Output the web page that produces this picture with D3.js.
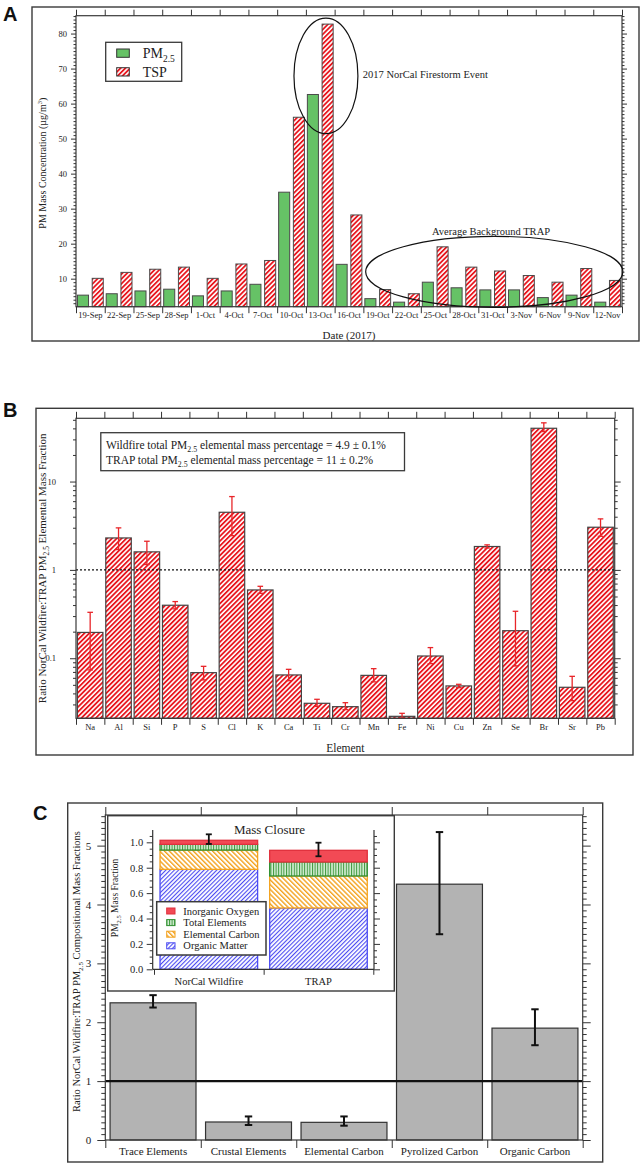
<!DOCTYPE html>
<html>
<head>
<meta charset="utf-8">
<script src="https://cdn.jsdelivr.net/npm/d3@7"></script>
<style>
  body { margin: 0; background: #fff; }
  svg { display: block; }
</style>
</head>
<body>
<svg id="fig" width="642" height="1170"></svg>
<script>
// ---- panel A data ----
const datesA = ['19-Sep','22-Sep','25-Sep','28-Sep','1-Oct','4-Oct','7-Oct','10-Oct','13-Oct','16-Oct',
                '19-Oct','22-Oct','25-Oct','28-Oct','31-Oct','3-Nov','6-Nov','9-Nov','12-Nov']
const pm25 = [5.3, 5.7, 6.5, 7.0, 5.1, 6.5, 8.4, 34.7, 62.6, 14.1, 4.3, 3.3, 9.0, 7.4, 6.8, 6.8, 4.6, 5.3, 3.3]
const tsp  = [10.1, 11.8, 12.7, 13.3, 10.1, 14.2, 15.2, 56.1, 82.7, 28.2, 6.9, 5.7, 19.1, 13.3, 12.2, 10.9, 9.0, 12.9, 9.5]
const ticksA = [10, 20, 30, 40, 50, 60, 70, 80]

// ---- panel B data ----
const elements = ['Na','Al','Si','P','S','Cl','K','Ca','Ti','Cr','Mn','Fe','Ni','Cu','Zn','Se','Br','Sr','Pb']
const ratioB     = [0.196, 2.30, 1.60, 0.398, 0.0687, 4.49, 0.593, 0.0647, 0.0309, 0.0283, 0.064, 0.022, 0.106, 0.0486, 1.84, 0.205, 40.1, 0.0469, 3.04]
const ratioBLow  = [0.0737, 1.70, 1.15, 0.362, 0.0568, 2.44, 0.543, 0.0557, 0.0285, 0.0262, 0.054, 0.021, 0.0869, 0.0465, 1.77, 0.0818, 36.8, 0.0331, 2.40]
const ratioBHigh = [0.331, 2.99, 2.11, 0.438, 0.081, 6.76, 0.652, 0.0749, 0.0343, 0.0314, 0.0762, 0.0238, 0.132, 0.0507, 1.92, 0.34, 46.2, 0.0624, 3.78]
const ticksB = [0.1, 1, 10]

// ---- panel C data ----
const compCats = ['Trace Elements','Crustal Elements','Elemental Carbon','Pyrolized Carbon','Organic Carbon']
const compRatio = [2.33, 0.306, 0.30, 4.345, 1.90]
const compLow   = [2.25, 0.255, 0.243, 3.495, 1.61]
const compHigh  = [2.46, 0.40, 0.40, 5.23, 2.22]
const ticksC = [0, 1, 2, 3, 4, 5]

// ---- inset (mass closure) data ----
const sites = ['NorCal Wildfire', 'TRAP']
const closureKeys = ['Organic Matter', 'Elemental Carbon', 'Total Elements', 'Inorganic Oxygen']
const organicMatter   = [0.787, 0.483]
const elementalCarbon = [0.152, 0.252]
const totalElements   = [0.045, 0.110]
const inorganicOxygen = [0.032, 0.092]
const closureLow  = [0.987, 0.890]
const closureHigh = [1.063, 0.997]
const ticksI = [0, 0.2, 0.4, 0.6, 0.8, 1.0]

const SERIF = '"Liberation Serif", "Times New Roman", Times, serif'
const SANS = '"Liberation Sans", Arial, sans-serif'

const svg = d3.select('#fig')
svg.append('rect').attr('width', 642).attr('height', 1170).attr('fill', '#fff')
const defs = svg.append('defs')

function stripes (id, color, bg, size, w, angle) {
  const p = defs.append('pattern')
    .attr('id', id)
    .attr('patternUnits', 'userSpaceOnUse')
    .attr('width', size).attr('height', size)
    .attr('patternTransform', `rotate(${angle})`)
  p.append('rect').attr('width', size).attr('height', size).attr('fill', bg)
  p.append('rect').attr('width', w).attr('height', size).attr('fill', color)
}
stripes('hatchRed', '#e8161e', '#fff', 3.4, 1.8, 45)
stripes('hatchBlue', '#4b4bf2', '#fff', 3, 1.1, 45)
stripes('hatchOrange', '#f3a21e', '#fff', 3.4, 1.4, -45)
stripes('hatchGreen', '#3b983b', '#d3ecd3', 2.6, 1.0, 0)

// text with PM2.5 subscript
function pmText (sel, before, after, size) {
  sel.append('tspan').text(before + 'PM')
  sel.append('tspan').attr('font-size', size * 0.68).attr('dy', size * 0.28).text('2.5')
  sel.append('tspan').attr('dy', -size * 0.28).text(after)
}

function box (g, x0, y0, x1, y1, sw, fill) {
  return g.append('rect')
    .attr('x', x0).attr('y', y0)
    .attr('width', x1 - x0).attr('height', y1 - y0)
    .attr('fill', fill || 'none')
    .attr('stroke', '#3a3a3a')
    .attr('stroke-width', sw || 1.2)
}

function styleAxis (s, fs) {
  s.attr('font-family', SERIF).attr('font-size', fs).attr('color', '#333')
  s.select('.domain').remove()
  s.selectAll('text').attr('fill', '#222')
}

// vertical axis with major (labelled) and minor ticks
function yAxis (g, scale, x, side, majors, minors, fmt, o) {
  const make = side === 'left' ? d3.axisLeft : d3.axisRight
  g.append('g').attr('transform', `translate(${x},0)`)
    .call(make(scale).tickValues(minors).tickSize(o.minLen).tickFormat(''))
    .call(s => styleAxis(s, o.fs))
  g.append('g').attr('transform', `translate(${x},0)`)
    .call(make(scale).tickValues(majors).tickSize(o.majLen).tickPadding(o.pad)
      .tickFormat(side === 'left' ? fmt : ''))
    .call(s => styleAxis(s, o.fs))
}

// ticks at category boundaries
function boundaryTicks (g, n, x0, x1, y, orient, len) {
  const s = d3.scaleLinear().domain([0, n]).range([x0, x1])
  const make = orient === 'top' ? d3.axisTop : d3.axisBottom
  g.append('g').attr('transform', `translate(0,${y})`)
    .call(make(s).tickValues(d3.range(n + 1)).tickSize(len).tickFormat(''))
    .call(s => styleAxis(s, 10))
}

function bandLabels (g, band, y, pad, fs) {
  g.append('g').attr('transform', `translate(0,${y})`)
    .call(d3.axisBottom(band).tickSize(0).tickPadding(pad))
    .call(s => styleAxis(s, fs))
}

function panelLetter (t, x, y) {
  svg.append('text').attr('x', x).attr('y', y)
    .attr('font-family', SANS).attr('font-weight', 'bold').attr('font-size', 20)
    .attr('fill', '#111').text(t)
}

// =================== PANEL A ===================
;(function () {
  const g = svg.append('g')
  const P = {l: 76, r: 622, t: 15.7, b: 306.7}
  box(g, 32, 7, 639, 341, 1.4)
  panelLetter('A', 3, 20.5)

  const x = d3.scaleBand().domain(datesA).range([P.l, P.r])
  const xSub = d3.scaleBand().domain(['pm', 'tsp']).range([0, x.bandwidth()])
    .paddingInner(0.25).paddingOuter(0.1)
  const xIdx = d3.scaleLinear().domain([0, datesA.length]).range([P.l, P.r])
  const y = d3.scaleLinear().domain([2, 85.1]).range([P.b, P.t])

  g.selectAll('.pm').data(datesA).join('rect')
    .attr('x', d => x(d) + xSub('pm'))
    .attr('y', (d, i) => y(pm25[i]))
    .attr('width', xSub.bandwidth())
    .attr('height', (d, i) => P.b - y(pm25[i]))
    .attr('fill', '#66c266').attr('stroke', '#4a4a4a').attr('stroke-width', 1)

  g.selectAll('.tsp').data(datesA).join('rect')
    .attr('x', d => x(d) + xSub('tsp'))
    .attr('y', (d, i) => y(tsp[i]))
    .attr('width', xSub.bandwidth())
    .attr('height', (d, i) => P.b - y(tsp[i]))
    .attr('fill', 'url(#hatchRed)').attr('stroke', '#4a4a4a').attr('stroke-width', 1)

  box(g, P.l, P.t, P.r, P.b, 1.2)

  const minors = d3.range(3, 86).filter(v => v % 10 !== 0)
  const opt = {minLen: 2.5, majLen: 5, pad: 4, fs: 8.5}
  yAxis(g, y, P.l, 'left', ticksA, minors, d3.format('d'), opt)
  yAxis(g, y, P.r, 'right', ticksA, minors, d3.format('d'), opt)
  boundaryTicks(g, datesA.length, P.l, P.r, P.t, 'top', 6)
  boundaryTicks(g, datesA.length, P.l, P.r, P.b, 'bottom', 6.5)
  bandLabels(g, x, P.b, 5, 8.5)

  g.append('text').attr('x', (P.l + P.r) / 2).attr('y', 338.5)
    .attr('text-anchor', 'middle').attr('font-family', SERIF).attr('font-size', 11)
    .attr('fill', '#222').text('Date (2017)')

  const yl = g.append('text')
    .attr('transform', `translate(46,${(P.t + P.b) / 2 + 2}) rotate(-90)`)
    .attr('text-anchor', 'middle').attr('font-family', SERIF).attr('font-size', 10)
    .attr('fill', '#222')
  yl.append('tspan').text('PM Mass Concentration (µg/m')
  yl.append('tspan').attr('font-size', 6.5).attr('dy', -4).text('3')
  yl.append('tspan').attr('dy', 4).text(')')

  // annotations
  g.append('ellipse')
    .attr('cx', (xIdx(7.585) + xIdx(9.81)) / 2).attr('cy', (y(84.4) + y(51.4)) / 2)
    .attr('rx', (xIdx(9.81) - xIdx(7.585)) / 2).attr('ry', (y(51.4) - y(84.4)) / 2)
    .attr('fill', 'none').attr('stroke', '#111').attr('stroke-width', 1.2)
  g.append('text').attr('x', xIdx(9.98)).attr('y', y(67.3))
    .attr('font-family', SERIF).attr('font-size', 10.5).attr('fill', '#222')
    .text('2017 NorCal Firestorm Event')

  g.append('ellipse')
    .attr('cx', (xIdx(10.08) + xIdx(19.03)) / 2).attr('cy', (y(22.1) + y(1.83)) / 2)
    .attr('rx', (xIdx(19.03) - xIdx(10.08)) / 2).attr('ry', (y(1.83) - y(22.1)) / 2)
    .attr('fill', 'none').attr('stroke', '#111').attr('stroke-width', 1.2)
  g.append('text').attr('x', xIdx(12.39)).attr('y', y(22.5))
    .attr('font-family', SERIF).attr('font-size', 10.5).attr('fill', '#222')
    .text('Average Background TRAP')

  // legend
  box(g, 105.7, 42.3, 181.7, 81.3, 1.3, '#fff')
  g.append('rect').attr('x', 116.7).attr('y', 49).attr('width', 12.6).attr('height', 8.3)
    .attr('fill', '#66c266').attr('stroke', '#333').attr('stroke-width', 1)
  g.append('rect').attr('x', 116.7).attr('y', 67.7).attr('width', 12.6).attr('height', 8.3)
    .attr('fill', 'url(#hatchRed)').attr('stroke', '#333').attr('stroke-width', 1)
  const l1 = g.append('text').attr('x', 142.7).attr('y', 58)
    .attr('font-family', SERIF).attr('font-size', 14).attr('fill', '#222')
  pmText(l1, '', '', 14)
  g.append('text').attr('x', 142.7).attr('y', 76.5)
    .attr('font-family', SERIF).attr('font-size', 14).attr('fill', '#222').text('TSP')
})()

// =================== PANEL B ===================
;(function () {
  const g = svg.append('g')
  const P = {l: 76, r: 614.7, t: 418.3, b: 718.3}
  box(g, 36, 408.3, 633, 755, 1.4)
  panelLetter('B', 3, 417)

  const x = d3.scaleBand().domain(elements).range([P.l, P.r]).paddingInner(0.1).paddingOuter(0.05)
  const y = d3.scaleLog().domain([0.0209, 52]).range([P.b, P.t])

  g.selectAll('.bar').data(elements).join('rect')
    .attr('x', d => x(d))
    .attr('y', (d, i) => y(ratioB[i]))
    .attr('width', x.bandwidth())
    .attr('height', (d, i) => P.b - y(ratioB[i]))
    .attr('fill', 'url(#hatchRed)').attr('stroke', '#444').attr('stroke-width', 1.2)

  const err = g.append('g').attr('stroke', '#e8262a').attr('stroke-width', 1.3)
  elements.forEach((d, i) => {
    const cx = x(d) + x.bandwidth() / 2
    err.append('line').attr('x1', cx).attr('x2', cx).attr('y1', y(ratioBLow[i])).attr('y2', y(ratioBHigh[i]))
    err.append('line').attr('x1', cx - 2.8).attr('x2', cx + 2.8).attr('y1', y(ratioBLow[i])).attr('y2', y(ratioBLow[i]))
    err.append('line').attr('x1', cx - 2.8).attr('x2', cx + 2.8).attr('y1', y(ratioBHigh[i])).attr('y2', y(ratioBHigh[i]))
  })

  g.append('line').attr('x1', P.l).attr('x2', P.r).attr('y1', y(1)).attr('y2', y(1))
    .attr('stroke', '#111').attr('stroke-width', 1.4).attr('stroke-dasharray', '2,2')

  box(g, P.l, P.t, P.r, P.b, 1.2)

  const minors = []
  ;[0.01, 0.1, 1, 10].forEach(dec => {
    for (let k = 2; k <= 9; k++) {
      const v = k * dec
      if (v >= 0.0209 && v <= 52) minors.push(v)
    }
  })
  const opt = {minLen: 3, majLen: 6, pad: 14, fs: 8.5}
  yAxis(g, y, P.l, 'left', ticksB, minors, d => String(d), opt)
  yAxis(g, y, P.r, 'right', ticksB, minors, d => String(d), opt)
  boundaryTicks(g, elements.length, P.l, P.r, P.t, 'top', 6.5)
  boundaryTicks(g, elements.length, P.l, P.r, P.b, 'bottom', 6.5)
  bandLabels(g, x, P.b, 6, 8.5)

  g.append('text').attr('x', (P.l + P.r) / 2).attr('y', 752)
    .attr('text-anchor', 'middle').attr('font-family', SERIF).attr('font-size', 11.5)
    .attr('fill', '#222').text('Element')

  const yl = g.append('text')
    .attr('transform', `translate(46,${(P.t + P.b) / 2}) rotate(-90)`)
    .attr('text-anchor', 'middle').attr('font-family', SERIF).attr('font-size', 11)
    .attr('fill', '#222')
  pmText(yl, 'Ratio NorCal Wildfire:TRAP ', ' Elemental Mass Fraction', 11)

  box(g, 100.8, 432.7, 404.5, 470.7, 1.3, '#fff')
  const t1 = g.append('text').attr('x', 106).attr('y', 449)
    .attr('font-family', SERIF).attr('font-size', 11.5).attr('fill', '#222')
  pmText(t1, 'Wildfire total ', ' elemental mass percentage = 4.9 ± 0.1%', 11.5)
  const t2 = g.append('text').attr('x', 106).attr('y', 464)
    .attr('font-family', SERIF).attr('font-size', 11.5).attr('fill', '#222')
  pmText(t2, 'TRAP total ', ' elemental mass percentage = 11 ± 0.2%', 11.5)
})()

// =================== PANEL C ===================
;(function () {
  const g = svg.append('g')
  const P = {l: 105.3, r: 582.7, t: 815, b: 1140}
  box(g, 67.7, 803, 602.7, 1162, 1.4)
  panelLetter('C', 33, 820)

  const x = d3.scaleBand().domain(compCats).range([P.l, P.r]).paddingInner(0.1).paddingOuter(0.05)
  const y = d3.scaleLinear().domain([0, 5.52]).range([P.b, P.t])

  g.selectAll('.bar').data(compCats).join('rect')
    .attr('x', d => x(d))
    .attr('y', (d, i) => y(compRatio[i]))
    .attr('width', x.bandwidth())
    .attr('height', (d, i) => P.b - y(compRatio[i]))
    .attr('fill', '#b3b3b3').attr('stroke', '#333').attr('stroke-width', 1.2)

  const err = g.append('g').attr('stroke', '#111').attr('stroke-width', 2)
  compCats.forEach((d, i) => {
    const cx = x(d) + x.bandwidth() / 2
    err.append('line').attr('x1', cx).attr('x2', cx).attr('y1', y(compLow[i])).attr('y2', y(compHigh[i]))
    err.append('line').attr('x1', cx - 3.7).attr('x2', cx + 3.7).attr('y1', y(compLow[i])).attr('y2', y(compLow[i]))
    err.append('line').attr('x1', cx - 3.7).attr('x2', cx + 3.7).attr('y1', y(compHigh[i])).attr('y2', y(compHigh[i]))
  })

  g.append('line').attr('x1', P.l).attr('x2', P.r).attr('y1', y(1)).attr('y2', y(1))
    .attr('stroke', '#111').attr('stroke-width', 2.2)

  box(g, P.l, P.t, P.r, P.b, 1.2)

  const minors = d3.range(1, 56).map(v => v / 10).filter(v => v % 1 !== 0)
  const opt = {minLen: 4, majLen: 8, pad: 6, fs: 11}
  yAxis(g, y, P.l, 'left', ticksC, minors, d3.format('d'), opt)
  yAxis(g, y, P.r, 'right', ticksC, minors, d3.format('d'), opt)
  boundaryTicks(g, compCats.length, P.l, P.r, P.t, 'top', 8)
  boundaryTicks(g, compCats.length, P.l, P.r, P.b, 'bottom', 8)
  bandLabels(g, x, P.b, 7, 11)

  const yl = g.append('text')
    .attr('transform', `translate(80,${(P.t + P.b) / 2 - 6}) rotate(-90)`)
    .attr('text-anchor', 'middle').attr('font-family', SERIF).attr('font-size', 10.5)
    .attr('fill', '#222')
  pmText(yl, 'Ratio NorCal Wildfire:TRAP ', ' Compositional Mass Fractions', 10.5)

  // ---- inset: mass closure ----
  const I = {l: 152.7, r: 374, t: 830, b: 969.3}
  box(g, 107.7, 815.7, 394.3, 991, 1.4, '#fff')

  const xi = d3.scaleBand().domain(sites).range([154, 373.3]).paddingInner(0.11).paddingOuter(0.055)
  const yi = d3.scaleLinear().domain([0, 1.097]).range([I.b, I.t])

  const table = sites.map((s, i) => ({
    site: s,
    'Organic Matter': organicMatter[i],
    'Elemental Carbon': elementalCarbon[i],
    'Total Elements': totalElements[i],
    'Inorganic Oxygen': inorganicOxygen[i]
  }))
  const stack = d3.stack().keys(closureKeys)(table)
  const fills = {
    'Organic Matter': ['url(#hatchBlue)', '#4b4bf2'],
    'Elemental Carbon': ['url(#hatchOrange)', '#f3a21e'],
    'Total Elements': ['url(#hatchGreen)', '#2f8f2f'],
    'Inorganic Oxygen': ['#f24a55', '#e0303c']
  }
  stack.forEach(layer => {
    g.append('g').selectAll('rect').data(layer).join('rect')
      .attr('x', d => xi(d.data.site))
      .attr('y', d => yi(d[1]))
      .attr('width', xi.bandwidth())
      .attr('height', d => yi(d[0]) - yi(d[1]))
      .attr('fill', fills[layer.key][0])
      .attr('stroke', fills[layer.key][1]).attr('stroke-width', 1.3)
  })

  const ierr = g.append('g').attr('stroke', '#111').attr('stroke-width', 1.8)
  sites.forEach((s, i) => {
    const cx = xi(s) + xi.bandwidth() / 2
    ierr.append('line').attr('x1', cx).attr('x2', cx).attr('y1', yi(closureLow[i])).attr('y2', yi(closureHigh[i]))
    ierr.append('line').attr('x1', cx - 3).attr('x2', cx + 3).attr('y1', yi(closureLow[i])).attr('y2', yi(closureLow[i]))
    ierr.append('line').attr('x1', cx - 3).attr('x2', cx + 3).attr('y1', yi(closureHigh[i])).attr('y2', yi(closureHigh[i]))
  })

  const ax = g.append('g').attr('stroke', '#333').attr('stroke-width', 1.2)
  ax.append('line').attr('x1', I.l).attr('x2', I.l).attr('y1', I.t).attr('y2', I.b)
  ax.append('line').attr('x1', I.r).attr('x2', I.r).attr('y1', I.t).attr('y2', I.b)
  ax.append('line').attr('x1', I.l).attr('x2', I.r).attr('y1', I.b).attr('y2', I.b)

  const iminors = d3.range(1, 22).map(v => v * 0.05).filter((v, k) => (k + 1) % 4 !== 0)
  const iopt = {minLen: 3, majLen: 6, pad: 3.5, fs: 10.5}
  yAxis(g, yi, I.l, 'left', ticksI, iminors, d3.format('.1f'), iopt)
  yAxis(g, yi, I.r, 'right', ticksI, iminors, d3.format('.1f'), iopt)
  boundaryTicks(g, sites.length, 154, 373.3, I.b, 'bottom', 5.5)
  bandLabels(g, xi, I.b, 8, 10.5)

  g.append('text').attr('x', 269.5).attr('y', 833.5)
    .attr('text-anchor', 'middle').attr('font-family', SERIF).attr('font-size', 13)
    .attr('fill', '#222').text('Mass Closure')

  const iyl = g.append('text')
    .attr('transform', `translate(118,898) rotate(-90)`)
    .attr('text-anchor', 'middle').attr('font-family', SERIF).attr('font-size', 9.5)
    .attr('fill', '#222')
  pmText(iyl, '', ' Mass Fraction', 9.5)

  // inset legend
  box(g, 156.7, 901.7, 266, 955, 1.5, '#fff')
  const legendKeys = closureKeys.slice().reverse()
  legendKeys.forEach((k, i) => {
    const cy = 911 + i * 11.6
    g.append('rect').attr('x', 166.7).attr('y', cy - 3).attr('width', 8.3).attr('height', 6)
      .attr('fill', fills[k][0]).attr('stroke', fills[k][1]).attr('stroke-width', 1)
    g.append('text').attr('x', 183.3).attr('y', cy + 3.5)
      .attr('font-family', SERIF).attr('font-size', 10.5).attr('fill', '#222').text(k)
  })
})()
</script>
</body>
</html>
